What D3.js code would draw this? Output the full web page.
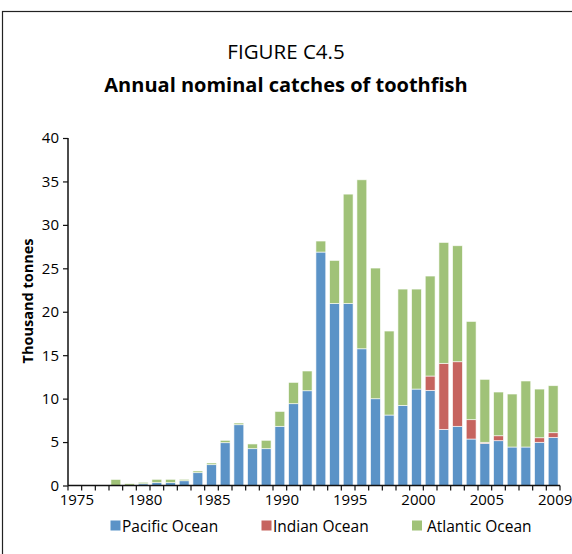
<!DOCTYPE html>
<html>
<head>
<meta charset="utf-8">
<script src="https://cdn.jsdelivr.net/npm/d3@7"></script>
<style>
  html, body { margin: 0; padding: 0; background: #fff; }
  svg { display: block; }
  text { font-family: "Open Sans", "Noto Sans", sans-serif; fill: #000; }
</style>
</head>
<body>
<svg id="chart" width="572" height="554"></svg>
<script>
// ---- data (thousand tonnes) ----
const years = ["1975","1976","1977","1978","1979","1980","1981","1982","1983","1984",
               "1985","1986","1987","1988","1989","1990","1991","1992","1993","1994",
               "1995","1996","1997","1998","1999","2000","2001","2002","2003","2004",
               "2005","2006","2007","2008","2009","2010"];
const pacific  = [0,0,0,0,0,0.20,0.33,0.33,0.55,1.48,
                  2.40,4.93,7.00,4.24,4.24,6.81,9.42,10.91,26.87,20.95,
                  20.95,15.74,9.99,8.11,9.22,11.10,10.95,6.46,6.81,5.35,
                  4.85,5.16,4.43,4.43,4.97,5.54];
const indian   = [0,0,0,0,0,0,0,0,0,0,
                  0,0,0,0,0,0,0,0,0,0,
                  0,0,0,0,0,0,1.65,7.60,7.44,2.23,
                  0.12,0.57,0,0,0.53,0.54];
const atlantic = [0,0,0,0.70,0.20,0.17,0.38,0.38,0.16,0.19,
                  0.19,0.27,0.19,0.54,0.96,1.72,2.45,2.27,1.27,4.96,
                  12.59,19.45,15.04,9.67,13.39,11.51,11.51,13.92,13.35,11.31,
                  7.25,5.03,6.10,7.60,5.60,5.41];
const seriesNames = ["Pacific Ocean","Indian Ocean","Atlantic Ocean"];
const seriesColors = ["#5b93c7","#c6645f","#a0c278"];
const yTicks = [0,5,10,15,20,25,30,35,40];
const xTickYears = ["1975","1980","1985","1990","1995","2000","2005","2010"];
const xTickText  = ["1975","1980","1985","1990","1995","2000","2005","2009"];

// ---- layout ----
const svg = d3.select("#chart");
const pLeft = 68, pRight = 560, pTop = 138, pBottom = 485.5;

// frame
svg.append("rect").attr("x", 2.5).attr("y", 11.5).attr("width", 640).attr("height", 640)
  .attr("fill", "none").attr("stroke", "#222").attr("stroke-width", 1.2);

// titles
svg.append("text").attr("x", 286).attr("y", 59).attr("text-anchor", "middle")
  .style("font-size", "20.5px").text("FIGURE C4.5");
svg.append("text").attr("x", 286).attr("y", 92).attr("text-anchor", "middle")
  .style("font-size", "20px").style("font-weight", "bold").text("Annual nominal catches of toothfish");

const rows = years.map((yr, i) => ({ year: yr, p: pacific[i], i_: indian[i], a: atlantic[i] }));
const stacked = d3.stack().keys(["p", "i_", "a"])(rows);

const x = d3.scaleBand().domain(years).range([pLeft, pRight]).paddingInner(0.28).paddingOuter(0.14);
const y = d3.scaleLinear().domain([0, 40]).range([pBottom, pTop]);

// bars
svg.append("g").selectAll("g").data(stacked).join("g")
  .attr("fill", (d, k) => seriesColors[k])
  .selectAll("rect").data(d => d).join("rect")
  .attr("x", d => x(d.data.year))
  .attr("width", x.bandwidth())
  .attr("y", d => y(d[1]))
  .attr("height", d => Math.max(0, y(d[0]) - y(d[1])))
  .attr("stroke", "rgba(255,255,255,0.75)")
  .attr("stroke-width", 0.8);

// y axis
const yAxis = d3.axisLeft(y).tickValues(yTicks).tickSize(5).tickPadding(4);
const gy = svg.append("g").attr("transform", `translate(${pLeft},0)`).call(yAxis);
gy.select(".domain").attr("stroke", "#111").attr("stroke-width", 1.5).attr("d", `M0,${pTop}V${pBottom}`);
gy.selectAll(".tick line").attr("stroke", "#111").attr("stroke-width", 1.2);
gy.selectAll(".tick text").style("font-size", "15px").style("font-family", "'Open Sans', sans-serif").attr("fill", "#000");

// x axis: tick marks at category boundaries
const boundaries = years.map(yr => x(yr) - x.step() * x.paddingInner() / 2);
boundaries.push(pRight);
const gx = svg.append("g");
gx.append("line").attr("x1", pLeft).attr("x2", pRight).attr("y1", pBottom).attr("y2", pBottom)
  .attr("stroke", "#111").attr("stroke-width", 1.5);
gx.selectAll("line.tk").data(boundaries).join("line").attr("class", "tk")
  .attr("x1", d => d).attr("x2", d => d).attr("y1", pBottom).attr("y2", pBottom + 5)
  .attr("stroke", "#111").attr("stroke-width", 1.2);
gx.selectAll("text").data(xTickYears).join("text")
  .attr("x", d => x(d) + x.bandwidth() / 2 + 2)
  .attr("y", pBottom + 19)
  .attr("text-anchor", "middle")
  .style("font-size", "15px")
  .text((d, i) => xTickText[i]);

// y label
svg.append("text").attr("transform", "translate(33,301) rotate(-90)")
  .attr("text-anchor", "middle").style("font-size", "14.5px").style("font-weight", "bold")
  .text("Thousand tonnes");

// legend
const legendX = [110.5, 261.5, 412];
const lg = svg.append("g");
seriesNames.forEach((n, k) => {
  lg.append("rect").attr("x", legendX[k]).attr("y", 520.5).attr("width", 10).attr("height", 10)
    .attr("fill", seriesColors[k]);
  lg.append("text").attr("x", legendX[k] + (k === 2 ? 15 : 11.5)).attr("y", 531.5)
    .style("font-size", "15.5px").text(n);
});
</script>
</body>
</html>
